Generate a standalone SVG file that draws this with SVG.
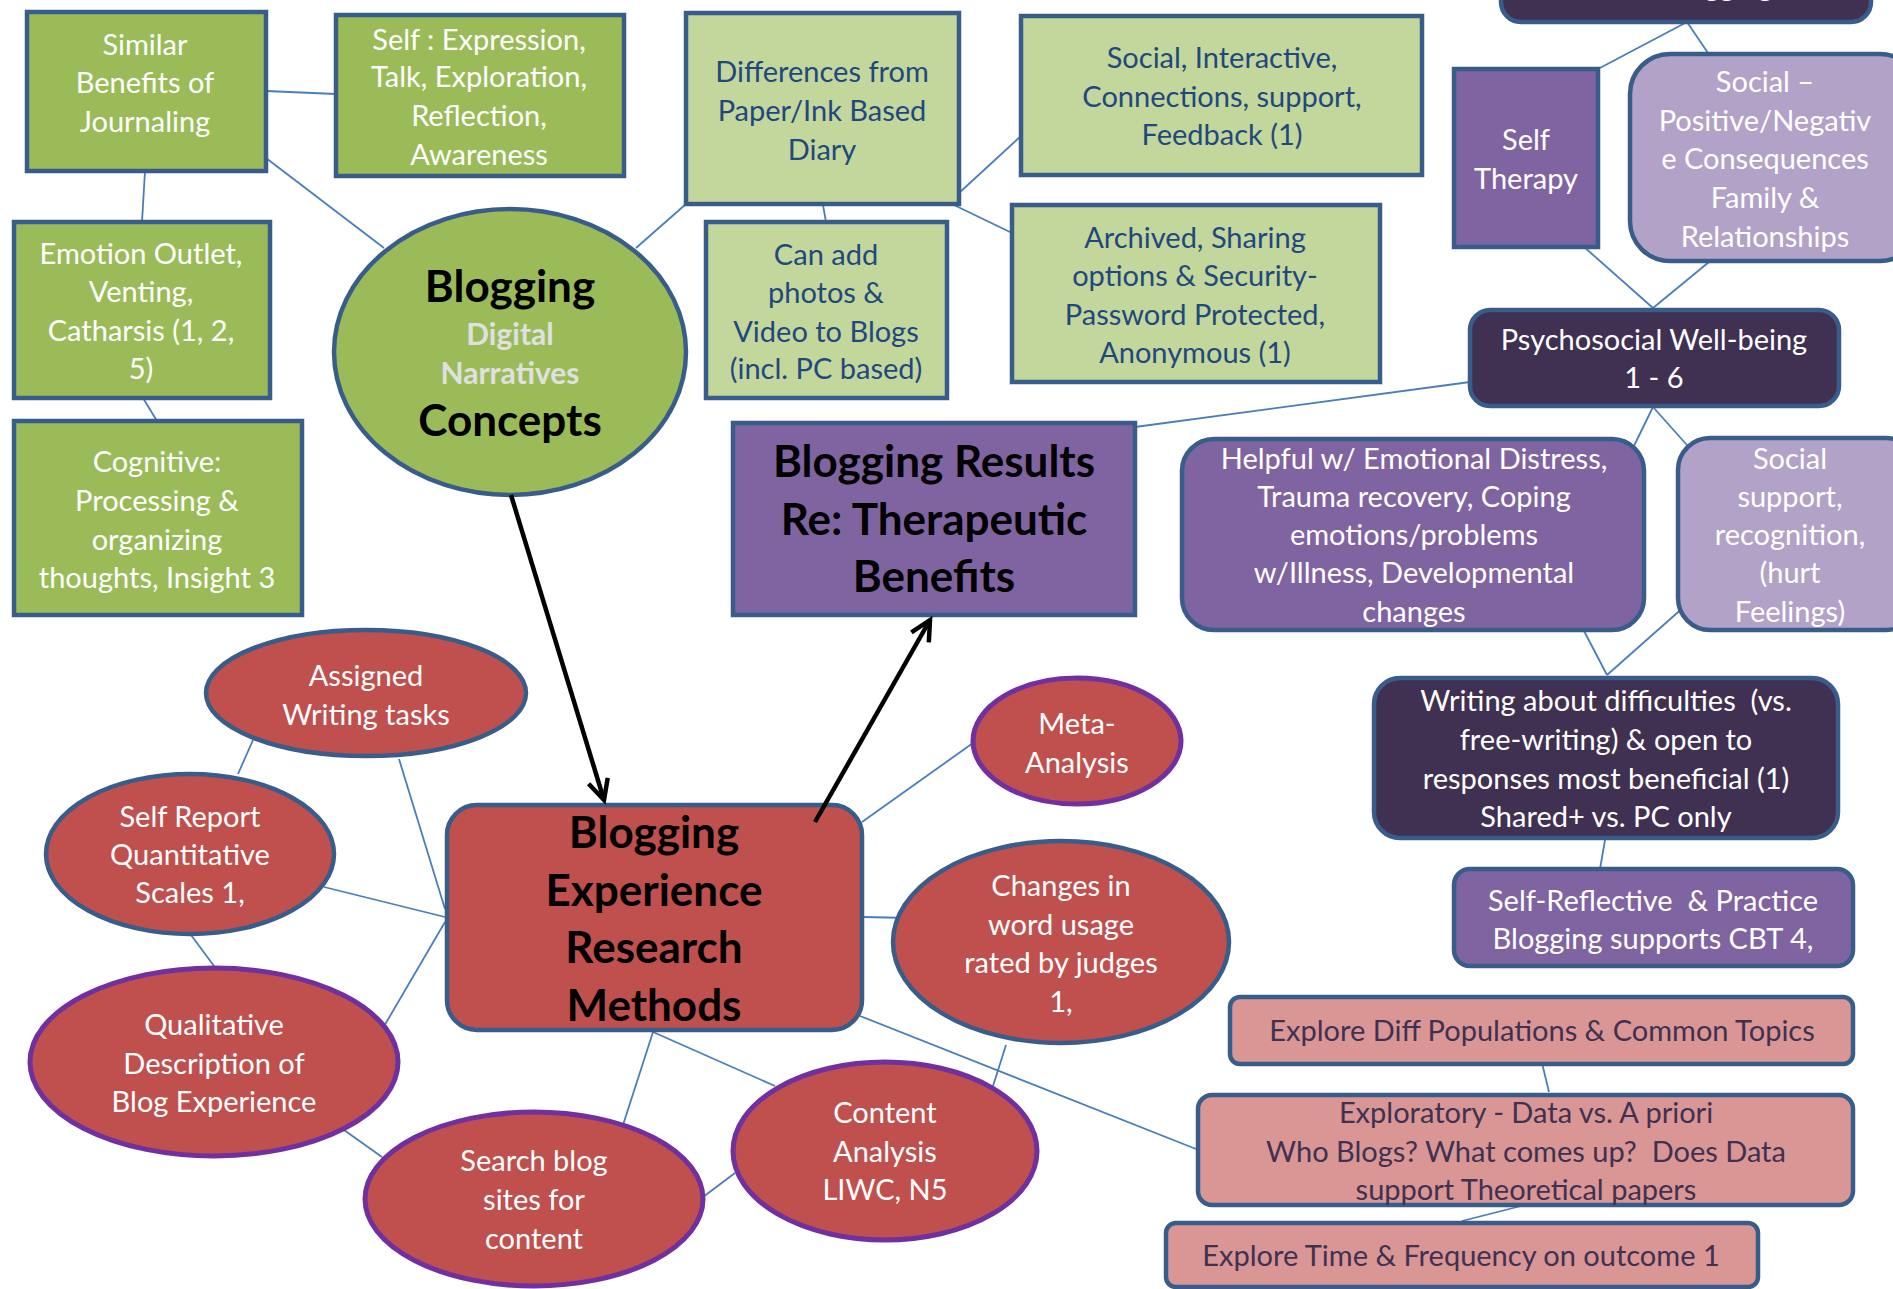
<svg xmlns="http://www.w3.org/2000/svg" width="1893" height="1289" viewBox="0 0 1893 1289">
<style>
text{font-family:Lato,"Open Sans","Liberation Sans",sans-serif;font-size:29px;text-anchor:middle;white-space:pre}
.w{fill:#ffffff}
.n{fill:#1F497D}
.p{fill:#3F3151}
.b{font-weight:bold;fill:#000000;font-size:44px}
.g{font-weight:bold;fill:#E0E0E0;font-size:30px}
.bx{stroke:#385D8A;stroke-width:4.5}
.gr{fill:#9BBB59}
.lg{fill:#C3D69B}
.pu{fill:#8064A2}
.lp{fill:#B3A2C7}
.dp{fill:#403152}
.rd{fill:#C0504D}
.pk{fill:#D99694}
.pb{stroke:#7030A0;stroke-width:5}
.c line{stroke:#4A7EBB;stroke-width:1.8}
.a line{stroke:#000;stroke-width:4.5}
</style>
<defs>
<marker id="ah" markerUnits="userSpaceOnUse" markerWidth="30" markerHeight="30" refX="22" refY="12" orient="auto">
<path d="M2,2 L22,12 L2,22" fill="none" stroke="#000" stroke-width="4.5"/>
</marker>
</defs>
<rect width="1893" height="1289" fill="#ffffff"/>
<g class="c">
<line x1="266" y1="91" x2="336" y2="94"/>
<line x1="266" y1="158" x2="384" y2="248"/>
<line x1="145" y1="171" x2="142" y2="222"/>
<line x1="143" y1="398" x2="157" y2="421"/>
<line x1="636" y1="248" x2="686" y2="204"/>
<line x1="823" y1="205" x2="826" y2="222"/>
<line x1="959" y1="193" x2="1021" y2="136"/>
<line x1="954" y1="205" x2="1012" y2="233"/>
<line x1="1135" y1="427" x2="1470" y2="382"/>
<line x1="1598" y1="69" x2="1687" y2="22"/>
<line x1="1687" y1="22" x2="1708" y2="53"/>
<line x1="1583" y1="246" x2="1653" y2="308"/>
<line x1="1709" y1="262" x2="1653" y2="308"/>
<line x1="1653" y1="407" x2="1630" y2="454"/>
<line x1="1653" y1="407" x2="1695" y2="454"/>
<line x1="1583" y1="629" x2="1607" y2="675"/>
<line x1="1694" y1="598" x2="1607" y2="675"/>
<line x1="1605" y1="840" x2="1600" y2="869"/>
<line x1="1542" y1="1063" x2="1549" y2="1092"/>
<line x1="1525" y1="1205" x2="1462" y2="1221"/>
<line x1="860" y1="1016" x2="1196" y2="1149"/>
<line x1="973" y1="743" x2="862" y2="822"/>
<line x1="863" y1="917" x2="910" y2="918"/>
<line x1="1006" y1="1045" x2="993" y2="1086"/>
<line x1="253" y1="740" x2="238" y2="774"/>
<line x1="399" y1="759" x2="445" y2="909"/>
<line x1="324" y1="887" x2="445" y2="917"/>
<line x1="445" y1="922" x2="383" y2="1028"/>
<line x1="191" y1="935" x2="214" y2="966"/>
<line x1="344" y1="1130" x2="382" y2="1157"/>
<line x1="653" y1="1032" x2="623" y2="1125"/>
<line x1="653" y1="1032" x2="775" y2="1086"/>
<line x1="703" y1="1197" x2="735" y2="1173"/>
</g>

<g id="similar"><rect class="bx gr" x="27" y="12" width="239" height="159"/>
<text class="w" x="145" y="55">Similar</text><text class="w" x="145" y="93">Benefits of</text><text class="w" x="145" y="132">Journaling</text></g>
<g id="self-expression"><rect class="bx gr" x="336" y="15" width="288" height="161"/>
<text class="w" x="479" y="50">Self : Expression,</text><text class="w" x="479" y="87">Talk, Exploration,</text><text class="w" x="479" y="126">Reflection,</text><text class="w" x="479" y="165">Awareness</text></g>
<g id="differences"><rect class="bx lg" x="686" y="13" width="273" height="191"/>
<text class="n" x="822" y="82">Differences from</text><text class="n" x="822" y="121">Paper/Ink Based</text><text class="n" x="822" y="160">Diary</text></g>
<g id="social-interactive"><rect class="bx lg" x="1021" y="16" width="401" height="159"/>
<text class="n" x="1222" y="68">Social, Interactive,</text><text class="n" x="1222" y="107">Connections, support,</text><text class="n" x="1222" y="145">Feedback (1)</text></g>
<g id="photos"><rect class="bx lg" x="706" y="222" width="241" height="176"/>
<text class="n" x="826" y="265">Can add</text><text class="n" x="826" y="303">photos &amp;</text><text class="n" x="826" y="342">Video to Blogs</text><text class="n" x="826" y="379">(incl. PC based)</text></g>
<g id="archived"><rect class="bx lg" x="1012" y="205" width="368" height="177"/>
<text class="n" x="1195" y="248">Archived, Sharing</text><text class="n" x="1195" y="286">options &amp; Security-</text><text class="n" x="1195" y="325">Password Protected,</text><text class="n" x="1195" y="363">Anonymous (1)</text></g>
<g id="emotion"><rect class="bx gr" x="14" y="222" width="256" height="176"/>
<text class="w" x="141" y="264">Emotion Outlet,</text><text class="w" x="141" y="302">Venting,</text><text class="w" x="141" y="341">Catharsis (1, 2,</text><text class="w" x="141" y="379">5)</text></g>
<g id="cognitive"><rect class="bx gr" x="14" y="421" width="288" height="194"/>
<text class="w" x="157" y="472">Cognitive:</text><text class="w" x="157" y="511">Processing &amp;</text><text class="w" x="157" y="550">organizing</text><text class="w" x="157" y="588">thoughts, Insight 3</text></g>
<g id="concepts"><ellipse class="bx gr" cx="510" cy="352" rx="176" ry="143"/>
<text class="b" x="510" y="302">Blogging</text><text class="g" x="510" y="345">Digital</text><text class="g" x="510" y="384">Narratives</text><text class="b" x="510" y="436">Concepts</text></g>
<g id="results"><rect class="bx pu" x="733" y="423" width="402" height="192"/>
<text class="b" x="934" y="477">Blogging Results</text><text class="b" x="934" y="535">Re: Therapeutic</text><text class="b" x="934" y="592">Benefits</text></g>

<g id="top-cut"><rect class="bx dp" x="1501" y="-40" width="370" height="62" rx="20"/>
<text class="w" x="1725" y="-4">Blogging ,</text></g>
<g id="self-therapy"><rect class="bx pu" x="1454" y="69" width="144" height="178"/>
<text class="w" x="1526" y="150">Self</text><text class="w" x="1526" y="189">Therapy</text></g>
<g id="social-pos"><rect class="bx lp" x="1630" y="54" width="290" height="207" rx="40"/>
<text class="w" x="1765" y="92">Social –</text><text class="w" x="1765" y="131">Positive/Negativ</text><text class="w" x="1765" y="169">e Consequences</text><text class="w" x="1765" y="208">Family &amp;</text><text class="w" x="1765" y="247">Relationships</text></g>
<g id="psychosocial"><rect class="bx dp" x="1470" y="310" width="369" height="96" rx="20"/>
<text class="w" x="1654" y="350">Psychosocial Well-being</text><text class="w" x="1654" y="388">1 - 6</text></g>
<g id="helpful"><rect class="bx pu" x="1182" y="439" width="462" height="191" rx="32"/>
<text class="w" x="1414" y="469">Helpful w/ Emotional Distress,</text><text class="w" x="1414" y="507">Trauma recovery, Coping</text><text class="w" x="1414" y="545">emotions/problems</text><text class="w" x="1414" y="583">w/Illness, Developmental</text><text class="w" x="1414" y="622">changes</text></g>
<g id="social-support"><rect class="bx lp" x="1678" y="438" width="240" height="192" rx="32"/>
<text class="w" x="1790" y="469">Social</text><text class="w" x="1790" y="507">support,</text><text class="w" x="1790" y="545">recognition,</text><text class="w" x="1790" y="583">(hurt</text><text class="w" x="1790" y="622">Feelings)</text></g>
<g id="writing"><rect class="bx dp" x="1374" y="678" width="464" height="160" rx="26"/>
<text class="w" x="1606" y="711" xml:space="preserve">Writing about difficulties  (vs.</text><text class="w" x="1606" y="750">free-writing) &amp; open to</text><text class="w" x="1606" y="789">responses most beneficial (1)</text><text class="w" x="1606" y="827">Shared+ vs. PC only</text></g>
<g id="self-reflective"><rect class="bx pu" x="1454" y="869" width="399" height="97" rx="16"/>
<text class="w" x="1653" y="911" xml:space="preserve">Self-Reflective  &amp; Practice</text><text class="w" x="1653" y="949">Blogging supports CBT 4,</text></g>
<g id="explore-diff"><rect class="bx pk" x="1230" y="997" width="623" height="67" rx="10"/>
<text class="p" x="1542" y="1041">Explore Diff Populations &amp; Common Topics</text></g>
<g id="exploratory"><rect class="bx pk" x="1198" y="1095" width="655" height="110" rx="14"/>
<text class="p" x="1526" y="1123">Exploratory - Data vs. A priori</text><text class="p" x="1526" y="1162" xml:space="preserve">Who Blogs? What comes up?  Does Data</text><text class="p" x="1526" y="1200">support Theoretical papers</text></g>
<g id="explore-time"><rect class="bx pk" x="1166" y="1223" width="592" height="64" rx="10"/>
<text class="p" x="1461" y="1266">Explore Time &amp; Frequency on outcome 1</text></g>

<g id="methods"><rect class="bx rd" x="447" y="805" width="415" height="225" rx="30"/>
<text class="b" x="654" y="848">Blogging</text><text class="b" x="654" y="906">Experience</text><text class="b" x="654" y="963">Research</text><text class="b" x="654" y="1021">Methods</text></g>
<g id="assigned"><ellipse class="bx rd" cx="366" cy="693" rx="160" ry="63"/>
<text class="w" x="366" y="686">Assigned</text><text class="w" x="366" y="725">Writing tasks</text></g>
<g id="self-report"><ellipse class="bx rd" cx="190" cy="854" rx="144" ry="80"/>
<text class="w" x="190" y="827">Self Report</text><text class="w" x="190" y="865">Quantitative</text><text class="w" x="190" y="903">Scales 1,</text></g>
<g id="qualitative"><ellipse class="pb rd" cx="214" cy="1062" rx="184" ry="94"/>
<text class="w" x="214" y="1035">Qualitative</text><text class="w" x="214" y="1074">Description of</text><text class="w" x="214" y="1112">Blog Experience</text></g>
<g id="search"><ellipse class="pb rd" cx="534" cy="1199" rx="169" ry="87"/>
<text class="w" x="534" y="1171">Search blog</text><text class="w" x="534" y="1210">sites for</text><text class="w" x="534" y="1249">content</text></g>
<g id="content"><ellipse class="pb rd" cx="885" cy="1151" rx="152" ry="89"/>
<text class="w" x="885" y="1123">Content</text><text class="w" x="885" y="1162">Analysis</text><text class="w" x="885" y="1200">LIWC, N5</text></g>
<g id="meta"><ellipse class="pb rd" cx="1077" cy="741" rx="104" ry="63"/>
<text class="w" x="1077" y="734">Meta-</text><text class="w" x="1077" y="773">Analysis</text></g>
<g id="changes"><ellipse class="bx rd" cx="1061" cy="942" rx="168" ry="101"/>
<text class="w" x="1061" y="896">Changes in</text><text class="w" x="1061" y="935">word usage</text><text class="w" x="1061" y="973">rated by judges</text><text class="w" x="1061" y="1012">1,</text></g>

<g class="a">
<line x1="511" y1="495" x2="604" y2="800" marker-end="url(#ah)"/>
<line x1="815" y1="822" x2="930" y2="620" marker-end="url(#ah)"/>
</g>
</svg>
